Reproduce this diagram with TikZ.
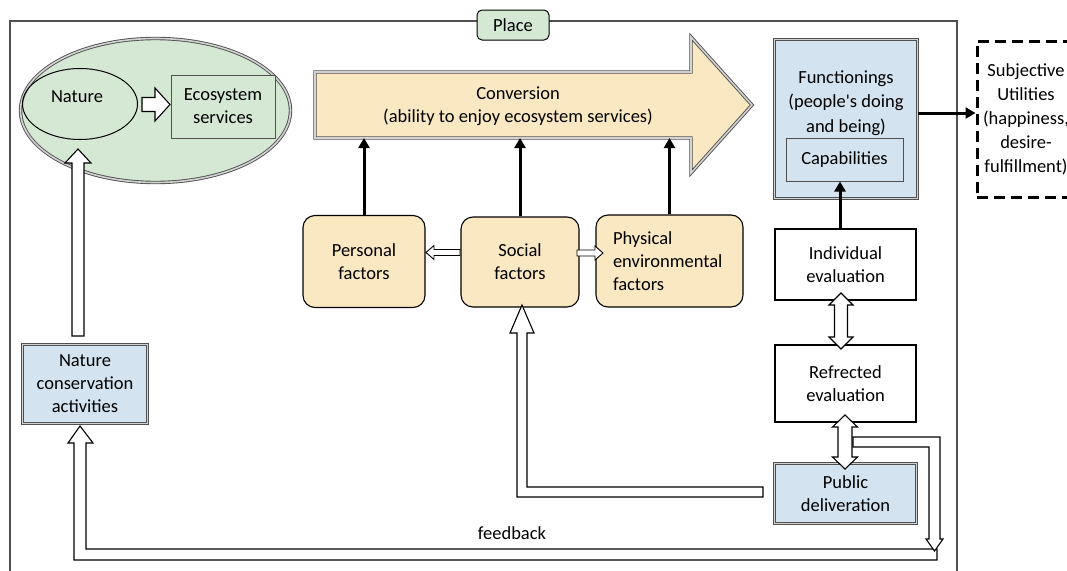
\documentclass[tikz,border=0pt]{standalone}
\usepackage{fontspec}
\setmainfont{Carlito}
\usetikzlibrary{arrows.meta,shapes.geometric,calc}
\definecolor{grn}{HTML}{D5E8D4}
\definecolor{peach}{HTML}{FAE8C2}
\definecolor{lblue}{HTML}{D3E3F0}
\definecolor{dgrey}{HTML}{505050}
\begin{document}
\begin{tikzpicture}[x=1pt,y=-1pt,
  every node/.style={font=\fontsize{18.5}{23}\selectfont, align=center, inner sep=0pt},
  dbl/.style={draw=dgrey, double=gray!35, double distance=1.6pt, line width=0.9pt},
  hollow/.style={draw=black, fill=white, line width=1.1pt, line join=miter},
  strongarrow/.style={line width=3pt, -{Triangle[length=10pt,width=11pt]}},
  factor/.style={draw=black, line width=1.1pt, fill=peach, rounded corners=12pt},
  evalbox/.style={draw=black, line width=2.6pt, minimum width=141pt},
  thinbox/.style={draw=dgrey, line width=1pt}]
\fill[white] (0,0) rectangle (1067,570);
\useasboundingbox (0,0) rectangle (1067,570);
% frame
\draw[line width=1.1pt, dgrey] (10,575) -- (10,21) -- (957,21) -- (957,575);
\node[draw, fill=grn, rounded corners=5pt, minimum width=72pt, minimum height=30pt, line width=1pt] (place) at (513,25) {Place};
% nature ellipse
\node[ellipse, dbl, fill=grn, minimum width=270pt, minimum height=144pt] (eco) at (155.5,110.5) {};
\node[ellipse, draw=black, line width=1pt, minimum width=115pt, minimum height=71pt] (nat) at (80,104) {};
\node (natt) at (77,97) {Nature};
\node[thinbox, fill=grn, minimum width=104pt, minimum height=63pt] (es) at (223,106.5) {Ecosystem\\services};
\draw[hollow] (142,97.5) -- (155,97.5) -- (155,88) -- (170,104.5) -- (155,121) -- (155,111.5) -- (142,111.5) -- cycle;
% nature conservation
\node[dbl, fill=lblue, minimum width=125pt, minimum height=79pt] (nca) at (85,384) {Nature\\conservation\\activities};
\draw[hollow] (72,336) -- (72,163) -- (65,163) -- (78,149) -- (91,163) -- (84,163) -- (84,336) -- cycle;
% conversion arrow
\draw[dbl, fill=peach, line join=miter] (315,72) -- (691,72) -- (691,37) -- (752,105) -- (691,173) -- (691,138) -- (315,138) -- cycle;
\node (conv) at (518,106) {Conversion\\(ability to enjoy ecosystem services)};
\coordinate (convbot) at (0,138);
% factors
\node[factor, minimum width=122pt, minimum height=92pt] (pers) at (364,261.5) {Personal\\factors};
\node[factor, minimum width=118pt, minimum height=90pt] (soc) at (520,262) {Social\\factors};
\node[factor, minimum width=147pt, minimum height=92pt, text width=113pt, align=left] (phys) at (669.5,261) {Physical\\environmental\\factors};
\draw[strongarrow] (pers.north) -- (pers.north |- convbot);
\draw[strongarrow] (soc.north) -- (soc.north |- convbot);
\draw[strongarrow] (phys.north) -- (phys.north |- convbot);
\draw[hollow, line width=0.9pt] (460,249.5) -- (434,249.5) -- (434,245.5) -- (426,252.5) -- (434,259.5) -- (434,255.5) -- (460,255.5) -- cycle;
\draw[hollow, line width=0.9pt] (577,250) -- (595,250) -- (595,246) -- (603,253) -- (595,260) -- (595,256) -- (577,256) -- cycle;
% functionings
\node[dbl, fill=lblue, minimum width=143pt, minimum height=159pt] (fun) at (846,119) {};
\node[font=\fontsize{18.5}{24.5}\selectfont] (funt) at (846,103) {Functionings\\(people\textquotesingle s doing\\and being)};
\node[thinbox, fill=lblue, minimum width=117pt, minimum height=43pt] (cap) at (844.5,159.5) {Capabilities};
\node[draw=black, line width=3pt, dash pattern=on 11pt off 6pt, minimum width=98pt, minimum height=156pt, font=\fontsize{18.5}{24}\selectfont] (subj) at (1026,119) {Subjective\\Utilities\\(happiness,\\desire-\\fulfillment)};
\coordinate (fy) at (0,113);
\draw[strongarrow] (fun.east |- fy) -- (subj.west |- fy);
% evaluations
\node[evalbox, minimum height=71pt] (ind) at (845.5,264.5) {Individual\\evaluation};
\node[evalbox, minimum height=77pt] (ref) at (845.5,383.5) {Refrected\\evaluation};
\node[dbl, fill=lblue, minimum width=142pt, minimum height=60pt] (pub) at (845.5,493.5) {Public\\deliveration};
\coordinate (cx) at (840,0);
\draw[strongarrow] (ind.north -| cx) -- (cap.south -| cx);
% feedback loops
\draw[hollow] (937,549) -- (86,549) -- (86,443) -- (93,443) -- (80,426) -- (68,443) -- (74,443) -- (74,560) -- (937,560) -- cycle;
\draw[hollow] (853,437) -- (940,437) -- (940,539) -- (943,539) -- (934.5,551) -- (926,539) -- (929,539) -- (929,447) -- (853,447) -- cycle;
\draw[hollow] (522,305) -- (534,333) -- (527,333) -- (527,487) -- (763,487) -- (763,497) -- (517,497) -- (517,333) -- (510,333) -- cycle;
% double arrows
\draw[hollow] (841,293) -- (853,305) -- (847.5,305) -- (847.5,337) -- (853,337) -- (841,349) -- (829,337) -- (834.5,337) -- (834.5,305) -- (829,305) -- cycle;
\draw[hollow] (845,415) -- (857.5,427) -- (852,427) -- (852,457) -- (857.5,457) -- (845,469) -- (832.5,457) -- (838,457) -- (838,427) -- (832.5,427) -- cycle;
\node (fb) at (512,533) {feedback};
\end{tikzpicture}
\end{document}
